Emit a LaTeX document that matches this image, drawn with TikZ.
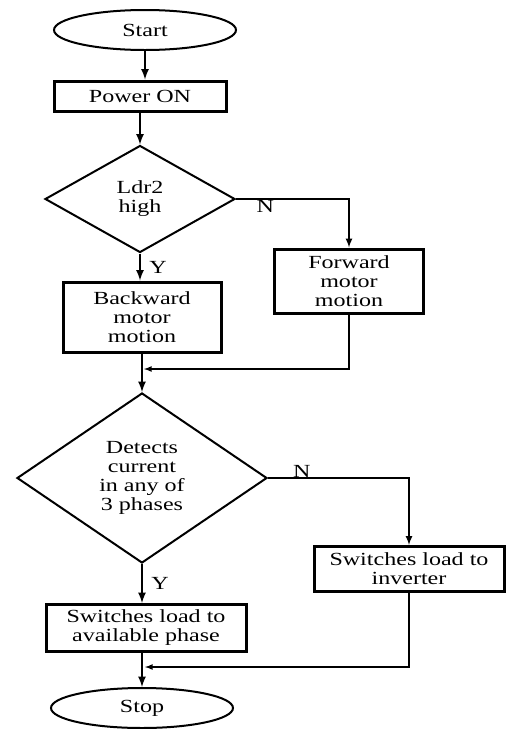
\documentclass[tikz,border=0pt]{standalone}
\usepackage{fontspec}
\setmainfont{Liberation Serif}[FakeStretch=1.3]
\usetikzlibrary{shapes.geometric}

\begin{document}
\begin{tikzpicture}[x=1pt, y=-1pt,
        every node/.style={font=\fontsize{18.5}{19}\selectfont, align=center, inner sep=0pt},
        term/.style={ellipse, draw, line width=2pt, minimum width=182pt, minimum height=40pt},
        proc/.style={rectangle, draw, line width=3pt},
        decision/.style={diamond, draw, line width=2pt},
        flow/.style={line width=2.5pt, -latex},
        retline/.style={line width=1.6pt, -latex}]
        \useasboundingbox (0,0) rectangle (507,729);
        % blocks
        \node[term] (start) at (145,30) {Start};
        \node[proc, minimum width=172pt, minimum height=30pt] (power) at (140,96) {Power ON};
        \node[decision, minimum width=190pt, minimum height=107pt] (ldr) at (140,199) {Ldr2\\high};
        \node[proc, minimum width=149pt, minimum height=64pt] (fwd) at (349,281) {Forward\\motor\\motion};
        \node[proc, minimum width=158pt, minimum height=70pt] (bwd) at (142,317) {Backward\\motor\\motion};
        \node[decision, minimum width=250pt, minimum height=170pt] (det) at (142,478) {Detects\\current\\in any of\\3 phases};
        \node[proc, minimum width=190pt, minimum height=45pt] (inv) at (409,569) {Switches load to\\inverter};
        \node[proc, minimum width=200pt, minimum height=47pt] (avail) at (146,628) {Switches load to\\available phase};
        \node[term] (stop) at (142,708) {Stop};
        \coordinate (j1) at (144,369);
        \coordinate (j2) at (145,667);
        % connectors
        \draw[flow] (start.south) -- (start.south |- power.north);
        \draw[flow] (power.south) -- (ldr.north);
        \draw[flow] (ldr.south) -- node[right=8pt] (y1) {Y} (ldr.south |- bwd.north);
        \draw[flow, line width=2pt] (ldr.east) -| node[below, pos=0.13] (n1) {N} (fwd.north);
        \draw[flow] (bwd.south) -- (bwd.south |- det.north);
        \draw[retline] (fwd.south) |- (j1);
        \draw[flow, line width=2pt] (det.east) -| node[above, pos=0.12] (n2) {N} (inv.north);
        \draw[flow] (det.south) -- node[right=8pt] (y2) {Y} (det.south |- avail.north);
        \draw[flow] (avail.south -| stop.north) -- (stop.north);
        \draw[retline] (inv.south) |- (j2);
\end{tikzpicture}
\end{document}
